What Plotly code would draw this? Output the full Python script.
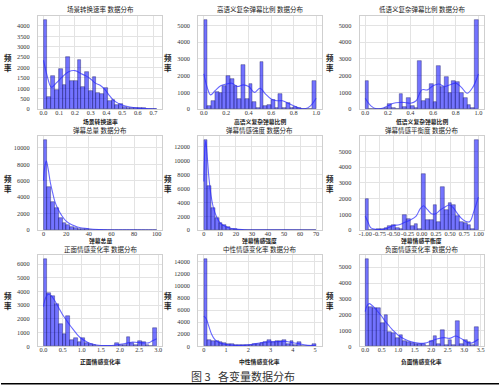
import numpy as np
import plotly.graph_objects as go

# ---------------- data ----------------
titles = ["场景转换速率 数据分布", "高语义复杂弹幕比例 数据分布", "低语义复杂弹幕比例 数据分布",
          "弹幕总量 数据分布", "弹幕情感强度 数据分布", "弹幕情感平衡度 数据分布",
          "正面情感变化率 数据分布", "中性情感变化率 数据分布", "负面情感变化率 数据分布"]
xlabels = ["场景转换速率", "高语义复杂弹幕比例", "低语义复杂弹幕比例",
           "弹幕总量", "弹幕情感强度", "弹幕情感平衡度",
           "正面情感变化率", "中性情感变化率", "负面情感变化率"]

# histogram bin range (lo, hi) and counts (30 bins each)
bin_ranges = [(0, 0.72), (0, 1), (0, 1), (0, 100), (0, 70), (-1, 1), (0, 2.96), (0, 5.05), (0, 3.43)]

counts1 = [4270, 600, 1620, 950, 1950, 1150, 2500, 1350, 1350, 2370, 1050, 1800, 900, 1530, 800,
           750, 1000, 400, 450, 200, 250, 100, 80, 60, 50, 40, 50, 20, 10, 5]
counts2 = [5300, 200, 500, 1050, 950, 1400, 2000, 1800, 1400, 600, 2650, 600, 1500, 450, 50,
           2850, 200, 250, 550, 100, 900, 100, 350, 50, 150, 50, 20, 0, 0, 1700]
counts3 = [1700, 0, 0, 0, 30, 100, 300, 100, 30, 900, 150, 650, 200, 50, 2900,
           500, 600, 1500, 450, 2600, 1300, 1900, 950, 1700, 1650, 1000, 700, 250, 100, 5300]
counts4 = [10900, 5300, 3400, 2700, 1450, 900, 700, 450, 300, 200, 150, 110, 80, 60, 40,
           30, 20, 15, 10, 10, 8, 5, 5, 3, 3, 2, 2, 1, 1, 1]
counts5 = [12900, 6400, 3200, 1800, 1100, 700, 400, 250, 150, 100, 80, 60, 40, 30, 20,
           15, 10, 10, 5, 5, 5, 3, 3, 2, 2, 1, 1, 1, 1, 1]
counts6 = [2000, 0, 0, 50, 50, 150, 250, 350, 150, 100, 1000, 700, 300, 400, 100,
           3550, 650, 650, 1600, 500, 2750, 1300, 1750, 1600, 900, 550, 450, 350, 50, 5700]
counts7 = [6350, 3900, 3650, 3100, 1600, 900, 2200, 450, 600, 300, 600, 250, 150, 80, 50,
           50, 50, 30, 50, 250, 80, 100, 700, 250, 100, 400, 300, 100, 50, 1350]
counts8 = [14400, 1000, 900, 800, 700, 600, 450, 350, 250, 200, 150, 150, 200, 300, 400,
           550, 750, 1000, 700, 800, 900, 1000, 300, 800, 200, 700, 100, 50, 50, 400]
counts9 = [5500, 2500, 2400, 2450, 1500, 2000, 900, 850, 500, 700, 350, 250, 200, 150, 150,
           150, 50, 350, 650, 150, 1050, 100, 400, 100, 1600, 150, 400, 250, 100, 1250]
all_counts = [counts1, counts2, counts3, counts4, counts5, counts6, counts7, counts8, counts9]

# KDE curves
kde_x1 = [0, 0.02, 0.05, 0.08, 0.12, 0.16, 0.2, 0.24, 0.27, 0.3, 0.33, 0.36, 0.39, 0.42, 0.45, 0.5, 0.55, 0.6, 0.65, 0.72]
kde_y1 = [2350, 1700, 1050, 1250, 1550, 1800, 1850, 1700, 1600, 1450, 1250, 1150, 950, 650, 400, 200, 100, 50, 25, 5]
kde_x2 = [0, 0.03, 0.06, 0.1, 0.15, 0.2, 0.25, 0.3, 0.35, 0.4, 0.45, 0.5, 0.55, 0.6, 0.65, 0.7, 0.75, 0.8, 0.85, 0.9, 0.95, 1.0]
kde_y2 = [2100, 1300, 850, 1100, 1400, 1500, 1550, 1350, 1450, 1350, 1000, 1250, 900, 600, 500, 500, 350, 200, 60, 20, 200, 650]
kde_x3 = [0, 0.05, 0.1, 0.15, 0.2, 0.25, 0.3, 0.35, 0.4, 0.45, 0.5, 0.55, 0.6, 0.65, 0.7, 0.75, 0.8, 0.85, 0.9, 0.95, 1.0]
kde_y3 = [650, 200, 20, 50, 200, 350, 400, 400, 350, 500, 1150, 1150, 1400, 1500, 1350, 1450, 1550, 1300, 950, 1300, 2100]
kde_x4 = [0, 1, 2.5, 4, 6, 8, 10, 13, 16, 20, 25, 30, 40, 50, 60, 80, 100]
kde_y4 = [6000, 7600, 8400, 7500, 5800, 4600, 3500, 2500, 1800, 1100, 650, 400, 180, 80, 30, 5, 0]
kde_x5 = [0, 0.6, 1.2, 2, 3, 4, 5, 6, 8, 10, 12, 15, 20, 25, 30, 40, 50, 70]
kde_y5 = [7000, 11500, 12800, 11000, 8000, 5800, 4300, 3200, 1900, 1100, 700, 400, 150, 70, 30, 10, 5, 0]
kde_x6 = [-1, -0.95, -0.9, -0.8, -0.7, -0.6, -0.5, -0.4, -0.3, -0.2, -0.1, -0.03, 0.03, 0.1, 0.17, 0.25, 0.33,
          0.4, 0.48, 0.55, 0.62, 0.7, 0.78, 0.85, 0.92, 1.0]
kde_y6 = [900, 500, 150, 50, 50, 150, 300, 350, 500, 650, 900, 1350, 1550, 1300, 1050, 1050, 1300,
          1450, 1600, 1450, 1100, 750, 550, 550, 1200, 2100]
kde_x7 = [0, 0.05, 0.12, 0.2, 0.3, 0.4, 0.5, 0.6, 0.7, 0.8, 0.9, 1.0, 1.15, 1.3, 1.5, 1.7, 1.9, 2.1, 2.3, 2.45,
          2.6, 2.75, 2.85, 2.96]
kde_y7 = [2900, 3500, 3800, 3700, 3300, 2800, 2300, 1900, 1500, 1150, 800, 550, 300, 150, 60, 50, 100, 180, 300, 280,
          250, 250, 400, 550]
kde_x8 = [0, 0.1, 0.2, 0.35, 0.5, 0.7, 1.0, 1.3, 1.6, 1.9, 2.2, 2.5, 2.8, 3.1, 3.4, 3.7, 4.0, 4.3, 4.6, 5.05]
kde_y8 = [5000, 4600, 3600, 2000, 1100, 600, 300, 180, 150, 200, 350, 550, 700, 750, 780, 800, 600, 400, 200, 100]
kde_x9 = [0, 0.05, 0.12, 0.2, 0.3, 0.4, 0.5, 0.6, 0.7, 0.8, 0.9, 1.0, 1.2, 1.4, 1.6, 1.8, 2.0, 2.2, 2.4, 2.55,
          2.75, 2.9, 3.05, 3.2, 3.43]
kde_y9 = [2200, 2550, 2700, 2600, 2400, 2150, 1900, 1600, 1350, 1100, 900, 700, 450, 280, 200, 200, 330, 480, 550, 500,
          650, 500, 300, 200, 450]
kde_xs = [kde_x1, kde_x2, kde_x3, kde_x4, kde_x5, kde_x6, kde_x7, kde_x8, kde_x9]
kde_ys = [kde_y1, kde_y2, kde_y3, kde_y4, kde_y5, kde_y6, kde_y7, kde_y8, kde_y9]

# tick values / labels
xtick_vals = [[0, 0.1, 0.2, 0.3, 0.4, 0.5, 0.6, 0.7],
              [0, 0.2, 0.4, 0.6, 0.8, 1.0],
              [0, 0.2, 0.4, 0.6, 0.8, 1.0],
              [0, 20, 40, 60, 80, 100],
              [0, 10, 20, 30, 40, 50, 60, 70],
              [-1, -0.75, -0.5, -0.25, 0, 0.25, 0.5, 0.75, 1.0],
              [0, 0.5, 1.0, 1.5, 2.0, 2.5, 3.0],
              [0, 1, 2, 3, 4, 5],
              [0, 0.5, 1.0, 1.5, 2.0, 2.5, 3.0, 3.5]]
xtick_text = [["0.0", "0.1", "0.2", "0.3", "0.4", "0.5", "0.6", "0.7"],
              ["0.0", "0.2", "0.4", "0.6", "0.8", "1.0"],
              ["0.0", "0.2", "0.4", "0.6", "0.8", "1.0"],
              ["0", "20", "40", "60", "80", "100"],
              ["0", "10", "20", "30", "40", "50", "60", "70"],
              ["-1.00", "-0.75", "-0.50", "-0.25", "0.00", "0.25", "0.50", "0.75", "1.00"],
              ["0.0", "0.5", "1.0", "1.5", "2.0", "2.5", "3.0"],
              ["0", "1", "2", "3", "4", "5"],
              ["0.0", "0.5", "1.0", "1.5", "2.0", "2.5", "3.0", "3.5"]]
ytick_step = [500, 1000, 1000, 2000, 2000, 1000, 1000, 2000, 1000]
ytick_top = [4000, 5000, 5000, 10000, 12000, 5000, 6000, 14000, 5000]

# ---------------- layout geometry (pixels) ----------------
W, H = 500, 388
cols = [(37, 162), (198, 322), (360, 485)]
rows = [(16, 110), (137, 232), (257, 349)]
title_y = [9, 131, 251]
xlab_y = [122.5, 242.5, 364.5]

BAR_FILL = "rgba(0,0,255,0.55)"
BAR_EDGE = "rgba(20,20,90,0.75)"
KDE_COL = "rgba(40,40,255,0.7)"
NUM_FONT = dict(family="Liberation Serif, DejaVu Serif, serif", size=6.3, color="#333333")
CJK = "Noto Sans CJK SC, sans-serif"

fig = go.Figure()
layout = dict(width=W, height=H, margin=dict(l=0, r=0, t=0, b=0),
              paper_bgcolor="white", plot_bgcolor="white", showlegend=False,
              bargap=0)
annotations = []

for i in range(9):
    r, c = divmod(i, 3)
    sfx = "" if i == 0 else str(i + 1)
    lo, hi = bin_ranges[i]
    cnt = all_counts[i]
    edges = np.linspace(lo, hi, len(cnt) + 1)
    centers = (edges[:-1] + edges[1:]) / 2
    width = edges[1] - edges[0]
    fig.add_trace(go.Bar(x=centers, y=cnt, width=width,
                         marker=dict(color=BAR_FILL, line=dict(color=BAR_EDGE, width=0.5)),
                         xaxis="x" + sfx, yaxis="y" + sfx, hoverinfo="skip"))
    fig.add_trace(go.Scatter(x=kde_xs[i], y=kde_ys[i], mode="lines",
                             line=dict(color=KDE_COL, width=1.1, shape="spline", smoothing=1.0),
                             xaxis="x" + sfx, yaxis="y" + sfx, hoverinfo="skip"))
    span = hi - lo
    xr = [lo - 0.05 * span, hi + 0.05 * span]
    ymax = max(cnt) * 1.05
    yt = list(range(0, ytick_top[i] + 1, ytick_step[i]))
    (xl, xrp), (yt_px, yb_px) = cols[c], rows[r]
    layout["xaxis" + sfx] = dict(domain=[xl / W, xrp / W], range=xr, anchor="y" + sfx,
                                 tickvals=xtick_vals[i], ticktext=xtick_text[i], tickfont=NUM_FONT,
                                 tickangle=0,
                                 showgrid=True, gridcolor="#e3e3e3", gridwidth=0.8,
                                 showline=True, mirror=True, linecolor="#cfcfcf", linewidth=1,
                                 zeroline=False, ticks="", ticklabelstandoff=-3, fixedrange=True)
    layout["yaxis" + sfx] = dict(domain=[1 - yb_px / H, 1 - yt_px / H], range=[0, ymax], anchor="x" + sfx,
                                 tickvals=yt, ticktext=[str(v) for v in yt], tickfont=NUM_FONT,
                                 showgrid=True, gridcolor="#e3e3e3", gridwidth=0.8,
                                 showline=True, mirror=True, linecolor="#cfcfcf", linewidth=1,
                                 zeroline=False, ticks="", ticklabelstandoff=6, fixedrange=True)
    cx = (xl + xrp) / 2 / W
    annotations.append(dict(text=titles[i], x=cx, y=1 - title_y[r] / H, xref="paper", yref="paper",
                            showarrow=False, xanchor="center", yanchor="middle",
                            font=dict(family=CJK, size=6.5, color="#222222")))
    annotations.append(dict(text="<b>" + xlabels[i] + "</b>", x=cx, y=1 - xlab_y[r] / H,
                            xref="paper", yref="paper", showarrow=False, xanchor="center", yanchor="middle",
                            font=dict(family=CJK, size=5.8, color="#222222")))
    annotations.append(dict(text="<b>频</b><br><b>率</b>", x=(xl - 30) / W, y=1 - (yt_px + yb_px) / 2 / H,
                            xref="paper", yref="paper", showarrow=False, xanchor="center", yanchor="middle",
                            font=dict(family=CJK, size=7.5, color="#222222")))

annotations.append(dict(text="图 3   各变量数据分布", x=243 / W, y=1 - 379 / H, xref="paper", yref="paper",
                        showarrow=False, xanchor="center", yanchor="middle",
                        font=dict(family=CJK, size=11, color="#333333")))
layout["annotations"] = annotations
layout["shapes"] = [dict(type="line", xref="paper", yref="paper", x0=0, x1=1,
                         y0=1 - 386.8 / H, y1=1 - 386.8 / H, line=dict(color="black", width=1.5))]
fig.update_layout(**layout)
fig.write_html("out.html", config={"displayModeBar": False},
               post_script="document.body.style.margin='0';document.body.style.overflow='hidden';")
